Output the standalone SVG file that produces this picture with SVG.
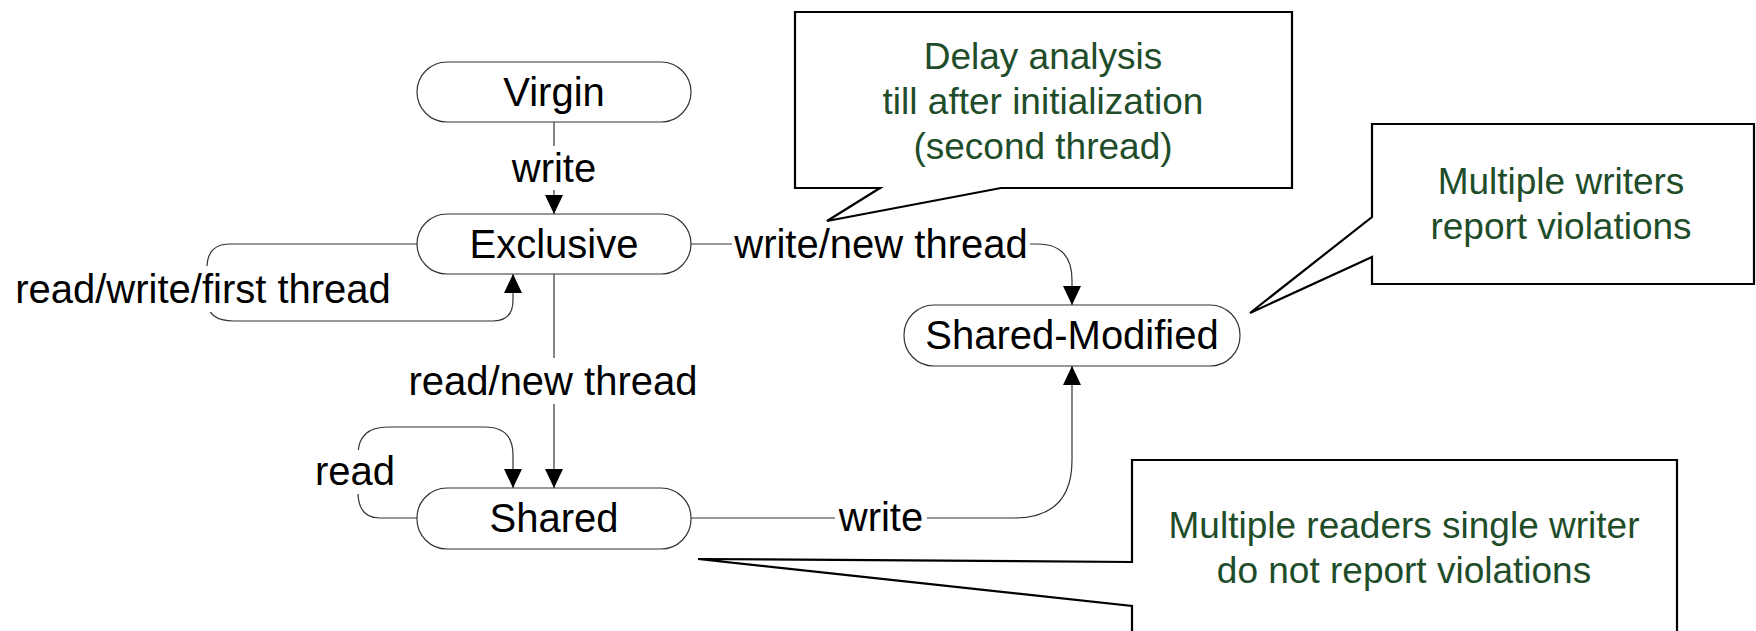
<svg xmlns="http://www.w3.org/2000/svg" width="1756" height="631" viewBox="0 0 1756 631">
<style>
.node{fill:#fff;stroke:#333;stroke-width:1.2}
.nt{font-family:"Liberation Sans",Arial,sans-serif;font-size:40px;fill:#000;text-anchor:middle}
.edge{fill:none;stroke:#333;stroke-width:1.2}
.lbl{font-family:"Liberation Sans",Arial,sans-serif;font-size:40px;fill:#000;text-anchor:middle}
.bg{fill:#fff}
.call{fill:#fff;stroke:#000;stroke-width:2.2;stroke-linejoin:miter}
.ct{font-family:"Liberation Sans",Arial,sans-serif;font-size:37px;fill:#1f4d2a;text-anchor:middle}
</style>
<defs>
<marker id="arr" viewBox="0 0 19 18" refX="19" refY="9" markerWidth="19" markerHeight="18" markerUnits="userSpaceOnUse" orient="auto">
<path d="M0,0 L19,9 L0,18 Z" fill="#000"/>
</marker>
</defs>
<rect width="1756" height="631" fill="#fff"/>

<g id="connectors">
<path class="edge" d="M554,122 V214" marker-end="url(#arr)"/>
<rect class="bg" x="506" y="146" width="96" height="44"/>
<text class="lbl" x="554" y="182">write</text>

<path class="edge" d="M417,244 H230 Q207,244 207,268 V300 Q207,321 234,321 H493 Q513,321 513,300 V274" marker-end="url(#arr)"/>
<rect class="bg" x="10" y="266" width="388" height="46"/>
<text class="lbl" x="203" y="303">read/write/first thread</text>

<path class="edge" d="M691,244 H1037 C1060,244 1072,256 1072,280 V305" marker-end="url(#arr)"/>
<rect class="bg" x="732" y="222" width="298" height="44"/>
<text class="lbl" x="881" y="258">write/new thread</text>

<path class="edge" d="M554,274 V488" marker-end="url(#arr)"/>
<rect class="bg" x="404" y="358" width="300" height="46"/>
<text class="lbl" x="553" y="395">read/new thread</text>

<path class="edge" d="M417,518 H380 Q358,518 358,492 V455 Q358,427 388,427 H485 Q513,427 513,455 V488" marker-end="url(#arr)"/>
<rect class="bg" x="314" y="450" width="84" height="44"/>
<text class="lbl" x="355" y="485">read</text>

<path class="edge" d="M691,518 H1014 Q1072,518 1072,460 V366" marker-end="url(#arr)"/>
<rect class="bg" x="835" y="496" width="92" height="44"/>
<text class="lbl" x="881" y="531">write</text>
</g>

<g id="virgin">
<rect class="node" x="417" y="62" width="274" height="60" rx="30" ry="30"/>
<text class="nt" x="554" y="106">Virgin</text>
</g>
<g id="exclusive">
<rect class="node" x="417" y="214" width="274" height="60" rx="30" ry="30"/>
<text class="nt" x="554" y="258">Exclusive</text>
</g>
<g id="shared-modified">
<rect class="node" x="904" y="305" width="336" height="61" rx="30" ry="30"/>
<text class="nt" x="1072" y="349">Shared-Modified</text>
</g>
<g id="shared">
<rect class="node" x="417" y="488" width="274" height="61" rx="30" ry="30"/>
<text class="nt" x="554" y="532">Shared</text>
</g>

<g id="callout-delay">
<path class="call" d="M795,12 H1292 V188 H1001 L827,221 L880,188 H795 Z"/>
<text class="ct" x="1043" y="69">Delay analysis</text>
<text class="ct" x="1043" y="114">till after initialization</text>
<text class="ct" x="1043" y="159">(second thread)</text>
</g>
<g id="callout-writers">
<path class="call" d="M1372,124 H1754 V284 H1372 V257 L1250,313 L1372,217 Z"/>
<text class="ct" x="1561" y="194">Multiple writers</text>
<text class="ct" x="1561" y="239">report violations</text>
</g>
<g id="callout-readers">
<path class="call" d="M1132,460 H1677 V645 H1132 V606 L698,559 L1132,562 Z"/>
<text class="ct" x="1404" y="538">Multiple readers single writer</text>
<text class="ct" x="1404" y="583">do not report violations</text>
</g>
</svg>
